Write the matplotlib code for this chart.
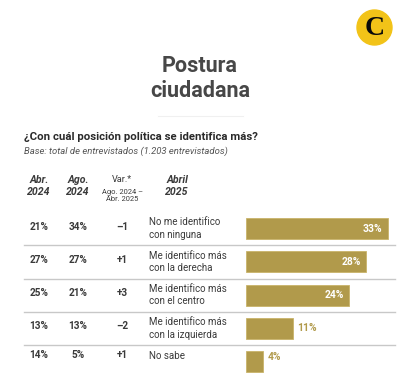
import matplotlib.pyplot as plt
from matplotlib.patches import Circle

# data
categories = ["No me identifico\ncon ninguna", "Me identifico más\ncon la derecha",
              "Me identifico más\ncon el centro", "Me identifico más\ncon la izquierda",
              "No sabe"]
abr_2024 = [21, 27, 25, 13, 14]
ago_2024 = [34, 27, 21, 13, 5]
variacion = ["–1", "+1", "+3", "–2", "+1"]
abr_2025 = [33, 28, 24, 11, 4]

GOLD = "#b19a4b"
TEXT = "#3a3a3a"
FONT = "Roboto"

plt.rcParams["font.family"] = [FONT, "DejaVu Sans"]

fig = plt.figure(figsize=(4, 3.88), dpi=100)
bg = fig.add_axes([0, 0, 1, 1])
bg.set_xlim(0, 400)
bg.set_ylim(388, 0)
bg.axis("off")

# logo
bg.add_patch(Circle((374.5, 27.5), 17.5, color="#f2c318", zorder=2))
bg.text(374.5, 28.5, "C", ha="center", va="center", fontsize=20, fontweight="bold",
        family="Liberation Serif", color="#0a0a0a", zorder=3)

# title
bg.text(200, 66, "Postura", ha="center", va="center", fontsize=15.5, fontweight="bold", color="#474747")
bg.text(200, 91, "ciudadana", ha="center", va="center", fontsize=15.5, fontweight="bold", color="#474747")
bg.plot([158, 243], [116, 116], color="#f0f0f0", lw=0.8)

bg.text(24, 137, "¿Con cuál posición política se identifica más?", ha="left", va="center",
        fontsize=8.2, fontweight="bold", color="#2a2a2a")
bg.text(24, 151, "Base: total de entrevistados (1.203 entrevistados)", ha="left", va="center",
        fontsize=6.8, style="italic", color="#555555")

# column headers
hdr = dict(ha="center", va="center", fontsize=7.6, style="italic", fontweight="bold", color=TEXT,
           linespacing=1.15)
bg.text(39, 186, "Abr.\n2024", **hdr)
bg.text(78, 186, "Ago.\n2024", **hdr)
bg.text(177, 186, "Abril\n2025", **hdr)
bg.text(122, 180, "Var.*", ha="center", va="center", fontsize=6.6, color=TEXT)
bg.text(122, 196, "Ago. 2024 –\nAbr. 2025", ha="center", va="center", fontsize=5.4,
        color=TEXT, linespacing=1.1)

# rows
top, step = 212, 33.25
n = len(categories)
for i in range(n):
    yc = top + step * (i + 0.5)
    yv = yc - (7 if i == n - 1 else 2)
    bg.text(39, yv, f"{abr_2024[i]}%", ha="center", va="center", fontsize=7.2, fontweight="bold", color=TEXT)
    bg.text(78, yv, f"{ago_2024[i]}%", ha="center", va="center", fontsize=7.2, fontweight="bold", color=TEXT)
    bg.text(122, yv, variacion[i], ha="center", va="center", fontsize=7.2, fontweight="bold", color=TEXT)
    bg.text(149, yc - (6 if i == n - 1 else 0), categories[i], ha="left", va="center", fontsize=7.0,
            color=TEXT, linespacing=1.3)
    if i < n - 1:
        bg.plot([24, 395], [top + step * (i + 1)] * 2, color="#c8c8c8", lw=1.0)

# bars
px_per_pct = 4.3
ax = fig.add_axes([246 / 400, (388 - (top + step * n)) / 388, 150 / 400, step * n / 388])
ax.set_xlim(0, 150 / px_per_pct)
ax.set_ylim(n - 0.5, -0.5)
ax.axis("off")
ys = list(range(n))
ax.barh(ys, abr_2025, height=0.63, color=GOLD, edgecolor="#c9b46a", linewidth=0.6)
for i, v in enumerate(abr_2025):
    if v >= 20:
        ax.text(v - 1.3, i, f"{v}%", ha="right", va="center", fontsize=7.4, fontweight="bold", color="white")
    else:
        ax.text(v + 1.0, i - (0.15 if i == n - 1 else 0), f"{v}%", ha="left", va="center",
                fontsize=7.4, fontweight="bold", color=GOLD)

fig.savefig("out.png", dpi=100)
